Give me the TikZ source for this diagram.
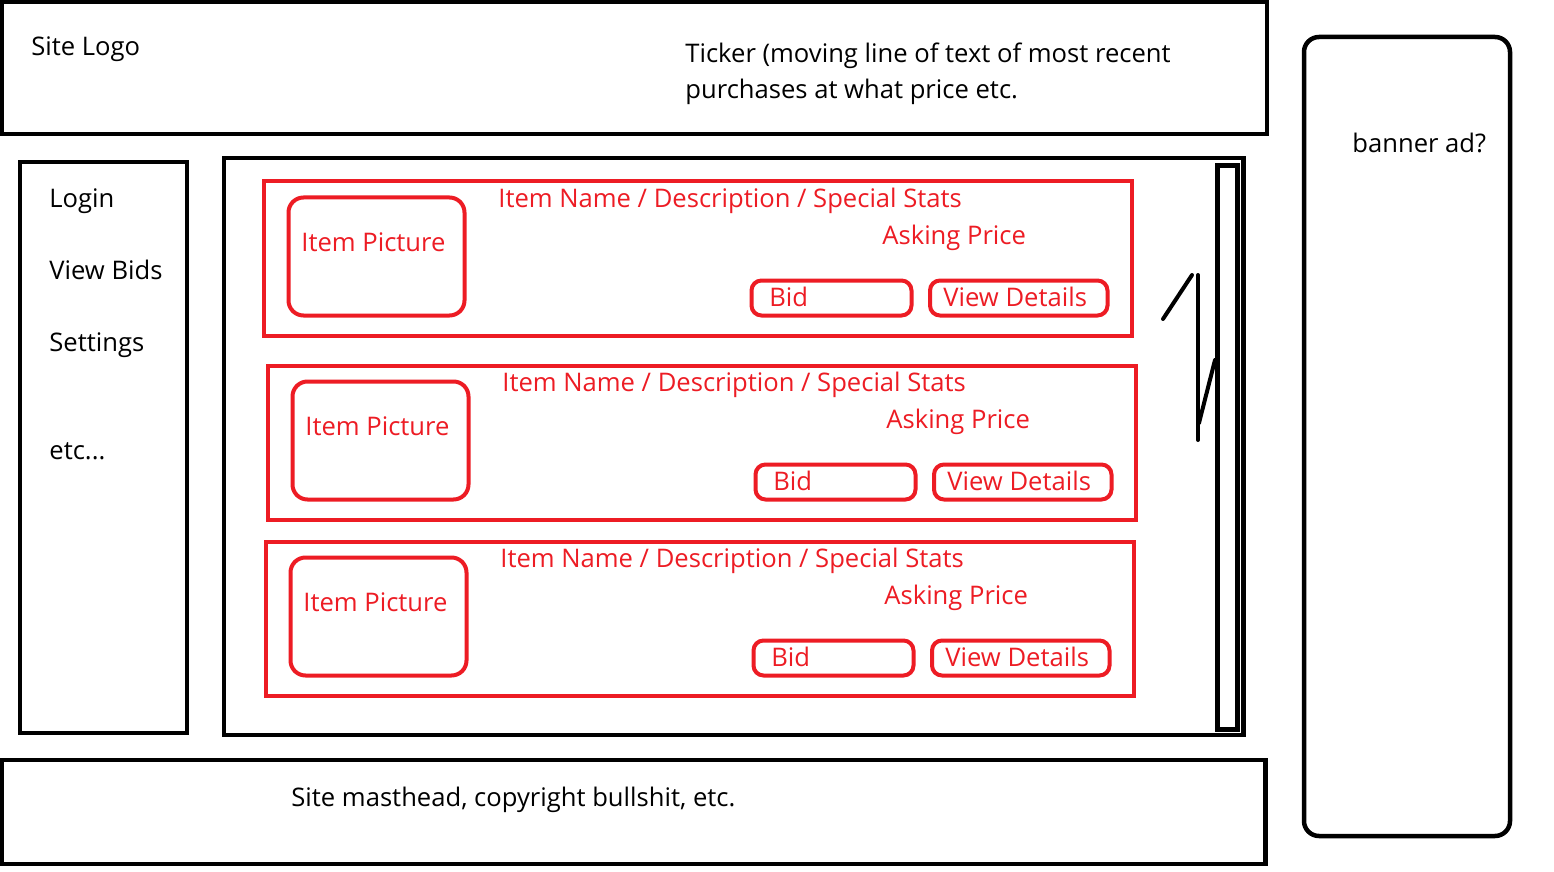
\documentclass[tikz,border=0pt]{standalone}
\usepackage{fontspec}
\setmainfont{Open Sans}
\definecolor{pred}{HTML}{ED1C24}
\begin{document}
\begin{tikzpicture}[x=0.5pt,y=-0.5pt,
  blk/.style={draw=black,line width=2.25pt},
  redbox/.style={draw=pred,line width=2pt},
  pic/.style={redbox,rounded corners=7.5pt},
  btn/.style={redbox,rounded corners=5pt},
  txt/.style={anchor=base west,inner sep=0pt,font=\fontsize{12.8}{15}\selectfont},
  rtxt/.style={txt,text=pred},
  thumb/.style={draw=black,line width=2pt,line cap=round}]
\useasboundingbox[fill=white] (0,0) rectangle (1554,872);
% header
\draw[blk] (2,2) rectangle (1267,134);
\node[txt] (logo) at (31,56) {Site Logo};
\node[txt] (ticker1) at (685,63) {Ticker (moving line of text of most recent};
\node[txt] (ticker2) at (685,99) {purchases at what price etc.};
% left nav
\draw[blk] (20,162) rectangle (187,733);
\node[txt] (login) at (49,207) {Login};
\node[txt] (viewbids) at (49,279) {View Bids};
\node[txt] (settings) at (49,351) {Settings};
\node[txt] (etc) at (49,459) {etc...};
% main content
\draw[blk] (224,158) rectangle (1243.5,735);
\draw[draw=black,line width=2.5pt] (1217.5,165.5) rectangle (1237.5,729.5);
\coordinate (t1) at (1163,319);
\coordinate (t2) at (1192,275);
\coordinate (t3) at (1198,275);
\coordinate (t4) at (1198,440);
\coordinate (t5) at (1199,423);
\coordinate (t6) at (1215,360);
\draw[thumb] (t1) -- (t2);
\draw[thumb] (t3) -- (t4);
\draw[thumb] (t5) -- (t6);
% cards
\foreach \dx/\dy/\i in {0/0/1,4/184/2,2/360/3}{
  \begin{scope}[shift={(\dx,\dy)}]
    \draw[redbox] (264,181.5) rectangle (1132,335.5);
    \draw[pic] (288.5,197.5) rectangle (464.5,315.5);
    \draw[btn] (751.5,280.5) rectangle (911.5,315.5);
    \draw[btn] (930,280.5) rectangle (1107.5,315.5);
    \node[rtxt] (name\i) at (498,207) {Item Name / Description / Special Stats};
    \node[rtxt] (price\i) at (882,244) {Asking Price};
    \node[rtxt] (picture\i) at (301,251) {Item Picture};
    \node[rtxt] (bid\i) at (769,306) {Bid};
    \node[rtxt] (details\i) at (943,306) {View Details};
  \end{scope}
}
% banner
\draw[blk,rounded corners=7.5pt] (1304,37) rectangle (1510,836);
\node[txt] (banner) at (1352,153) {banner ad?};
% footer
\draw[blk] (2,760) rectangle (1265.5,864);
\node[txt] (footer) at (291,806) {Site masthead, copyright bullshit, etc.};
\end{tikzpicture}
\end{document}
